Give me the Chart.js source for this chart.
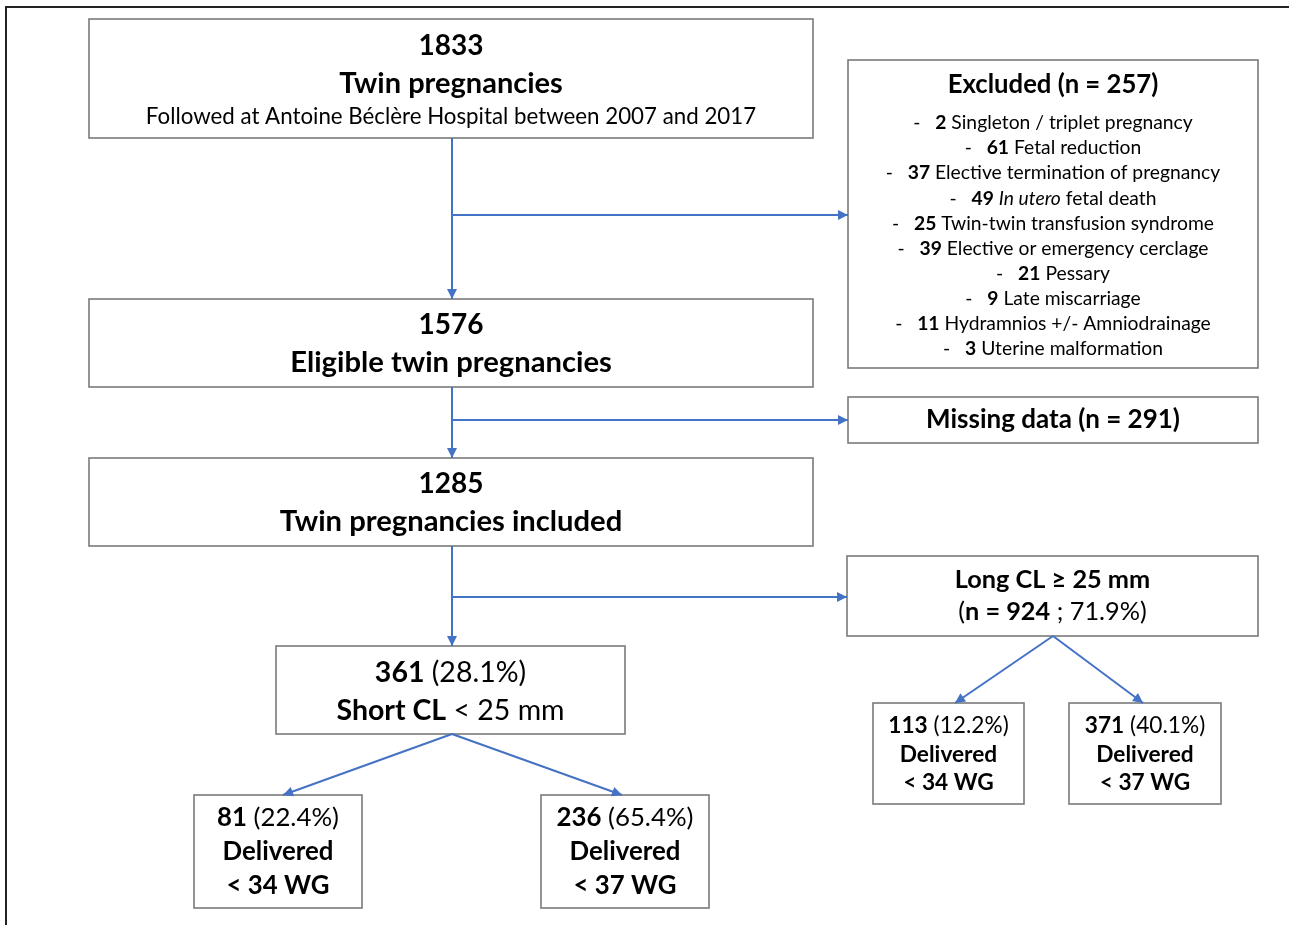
<!DOCTYPE html>
<html>
<head>
<meta charset="utf-8">
<script src="https://cdn.jsdelivr.net/npm/chart.js@4.4.1/dist/chart.umd.min.js"></script>
<style>
html,body{margin:0;padding:0;background:#fff;}
canvas{display:block;}
</style>
</head>
<body>
<canvas id="c" width="1289" height="925"></canvas>
<script>
// ---------------- DATA ----------------
const totalFollowed = 1833;
const studyPeriod = ["2007", "2017"];
const hospital = "Antoine Béclère Hospital";
const excludedTotal = 257;
const exclusionCounts = [2, 61, 37, 49, 25, 39, 21, 9, 11, 3];
const exclusionReasons = [
  "Singleton / triplet pregnancy",
  "Fetal reduction",
  "Elective termination of pregnancy",
  "*In utero* fetal death",
  "Twin-twin transfusion syndrome",
  "Elective or emergency cerclage",
  "Pessary",
  "Late miscarriage",
  "Hydramnios +/- Amniodrainage",
  "Uterine malformation"
];
const eligibleCount = 1576;
const missingCount = 291;
const includedCount = 1285;
const clThreshold = 25;
const shortCL = { n: 361, pct: "28.1%" };
const longCL = { n: 924, pct: "71.9%" };
const deliveryWeeks = [34, 37];
const shortDelivered = [{ n: 81, pct: "22.4%" }, { n: 236, pct: "65.4%" }];
const longDelivered = [{ n: 113, pct: "12.2%" }, { n: 371, pct: "40.1%" }];

// ---------------- LAYOUT (chart units = pixels) ----------------
const W = 1289, H = 925;
const FONT = "Lato, 'Open Sans', sans-serif";
const BLUE = "#4472C4";
const boxes = {
  b1833:   [89, 19, 813, 138],
  excl:    [848, 60, 1258, 368],
  b1576:   [89, 299, 813, 387],
  missing: [848, 397, 1258, 443],
  b1285:   [89, 458, 813, 546],
  long:    [847, 556, 1258, 636],
  short:   [276, 646, 625, 734],
  d81:     [194, 795, 362, 908],
  d236:    [541, 795, 709, 908],
  d113:    [873, 703, 1024, 804],
  d371:    [1069, 703, 1221, 804]
};
const connectors = [
  [[452, 138], [452, 299]],
  [[452, 215], [848, 215]],
  [[452, 387], [452, 458]],
  [[452, 420], [848, 420]],
  [[452, 546], [452, 646]],
  [[452, 597], [847, 597]],
  [[452, 734], [283, 795]],
  [[452, 734], [622, 795]],
  [[1053, 636], [955, 703]],
  [[1053, 636], [1143, 703]]
];

// text helpers: run = [text, weight('b'|'r'|'i')]
function parseReason(s) {
  const parts = s.split("*");
  return parts.map((p, i) => [p, i % 2 ? "i" : "r"]).filter(r => r[0].length);
}
const B = t => [String(t), "b"], R = t => [String(t), "r"];

const texts = [
  { box: "b1833", lines: [
    { y: 46, size: 28, runs: [B(totalFollowed)] },
    { y: 84, size: 29, runs: [B("Twin pregnancies")] },
    { y: 117, size: 22.3, runs: [R("Followed at " + hospital + " between " + studyPeriod[0] + " and " + studyPeriod[1])] }
  ]},
  { box: "excl", lines: [
    { y: 85, size: 25.7, runs: [B("Excluded (n = " + excludedTotal + ")")] }
  ].concat(exclusionCounts.map((c, i) => ({
    y: 123 + i * 25.1, size: 19.3,
    runs: [R("-   "), B(c), R(" ")].concat(parseReason(exclusionReasons[i]))
  })))},
  { box: "b1576", lines: [
    { y: 325, size: 28, runs: [B(eligibleCount)] },
    { y: 363, size: 29.2, runs: [B("Eligible twin pregnancies")] }
  ]},
  { box: "missing", lines: [
    { y: 420, size: 26, runs: [B("Missing data (n = " + missingCount + ")")] }
  ]},
  { box: "b1285", lines: [
    { y: 484, size: 28, runs: [B(includedCount)] },
    { y: 522, size: 29.2, runs: [B("Twin pregnancies included")] }
  ]},
  { box: "long", lines: [
    { y: 580, size: 25.3, runs: [B("Long CL ≥ " + clThreshold + " mm")] },
    { y: 612, size: 25.3, runs: [R("("), B("n = " + longCL.n), R(" ; " + longCL.pct + ")")] }
  ]},
  { box: "short", lines: [
    { y: 673, size: 28.5, runs: [B(shortCL.n), R(" (" + shortCL.pct + ")")] },
    { y: 711, size: 28.5, runs: [B("Short CL"), R(" < " + clThreshold + " mm")] }
  ]},
  { box: "d81", lines: [
    { y: 818, size: 25.8, runs: [B(shortDelivered[0].n), R(" (" + shortDelivered[0].pct + ")")] },
    { y: 852, size: 25.8, runs: [B("Delivered")] },
    { y: 886, size: 25.8, runs: [B("< " + deliveryWeeks[0] + " WG")] }
  ]},
  { box: "d236", lines: [
    { y: 818, size: 25.8, runs: [B(shortDelivered[1].n), R(" (" + shortDelivered[1].pct + ")")] },
    { y: 852, size: 25.8, runs: [B("Delivered")] },
    { y: 886, size: 25.8, runs: [B("< " + deliveryWeeks[1] + " WG")] }
  ]},
  { box: "d113", lines: [
    { y: 726, size: 22.7, runs: [B(longDelivered[0].n), R(" (" + longDelivered[0].pct + ")")] },
    { y: 755, size: 22.7, runs: [B("Delivered")] },
    { y: 783, size: 22.7, runs: [B("< " + deliveryWeeks[0] + " WG")] }
  ]},
  { box: "d371", lines: [
    { y: 726, size: 22.7, runs: [B(longDelivered[1].n), R(" (" + longDelivered[1].pct + ")")] },
    { y: 755, size: 22.7, runs: [B("Delivered")] },
    { y: 783, size: 22.7, runs: [B("< " + deliveryWeeks[1] + " WG")] }
  ]}
];

function fontFor(w, size) {
  if (w === "b") return "bold " + size + "px " + FONT;
  if (w === "i") return "italic " + size + "px " + FONT;
  return size + "px " + FONT;
}

const flowPlugin = {
  id: "flow",
  beforeDatasetsDraw(chart) {
    const ctx = chart.ctx, xs = chart.scales.x, ys = chart.scales.y;
    ctx.save();
    // outer frame
    ctx.strokeStyle = "#222";
    ctx.lineWidth = 2;
    ctx.beginPath();
    ctx.moveTo(xs.getPixelForValue(6), ys.getPixelForValue(H));
    ctx.lineTo(xs.getPixelForValue(6), ys.getPixelForValue(7));
    ctx.lineTo(xs.getPixelForValue(W), ys.getPixelForValue(7));
    ctx.stroke();
    // boxes
    ctx.strokeStyle = "#7a7a7a";
    ctx.lineWidth = 1.6;
    Object.values(boxes).forEach(b => {
      const x0 = xs.getPixelForValue(b[0]), y0 = ys.getPixelForValue(b[1]);
      const x1 = xs.getPixelForValue(b[2]), y1 = ys.getPixelForValue(b[3]);
      ctx.fillStyle = "#fff";
      ctx.fillRect(x0, y0, x1 - x0, y1 - y0);
      ctx.strokeRect(x0, y0, x1 - x0, y1 - y0);
    });
    ctx.restore();
  },
  afterDatasetsDraw(chart) {
    const ctx = chart.ctx, xs = chart.scales.x, ys = chart.scales.y;
    ctx.save();
    // arrowheads
    chart.data.datasets.forEach(ds => {
      const d = ds.data, n = d.length;
      const px = xs.getPixelForValue(d[n - 1].x), py = ys.getPixelForValue(d[n - 1].y);
      const qx = xs.getPixelForValue(d[n - 2].x), qy = ys.getPixelForValue(d[n - 2].y);
      const a = Math.atan2(py - qy, px - qx), L = 10, Wd = 5;
      ctx.fillStyle = BLUE;
      ctx.beginPath();
      ctx.moveTo(px, py);
      ctx.lineTo(px - L * Math.cos(a) + Wd * Math.sin(a), py - L * Math.sin(a) - Wd * Math.cos(a));
      ctx.lineTo(px - L * Math.cos(a) - Wd * Math.sin(a), py - L * Math.sin(a) + Wd * Math.cos(a));
      ctx.closePath();
      ctx.fill();
    });
    // text
    ctx.fillStyle = "#000";
    ctx.textBaseline = "middle";
    ctx.textAlign = "left";
    texts.forEach(t => {
      const b = boxes[t.box];
      const cx = xs.getPixelForValue((b[0] + b[2]) / 2);
      t.lines.forEach(line => {
        let total = 0;
        const widths = line.runs.map(r => { ctx.font = fontFor(r[1], line.size); const w = ctx.measureText(r[0]).width; total += w; return w; });
        let x = cx - total / 2;
        const y = ys.getPixelForValue(line.y);
        line.runs.forEach((r, i) => { ctx.font = fontFor(r[1], line.size); ctx.fillText(r[0], x, y); x += widths[i]; });
      });
    });
    ctx.restore();
  }
};

new Chart(document.getElementById("c"), {
  type: "scatter",
  data: {
    datasets: connectors.map(c => ({
      data: c.map(p => ({ x: p[0], y: p[1] })),
      showLine: true,
      pointRadius: 0,
      borderColor: BLUE,
      borderWidth: 2,
      fill: false
    }))
  },
  options: {
    responsive: false,
    animation: false,
    events: [],
    layout: { padding: 0 },
    plugins: { legend: { display: false }, tooltip: { enabled: false } },
    scales: {
      x: { type: "linear", min: 0, max: W, display: false },
      y: { type: "linear", min: 0, max: H, reverse: true, display: false }
    }
  },
  plugins: [flowPlugin]
});
</script>
</body>
</html>
